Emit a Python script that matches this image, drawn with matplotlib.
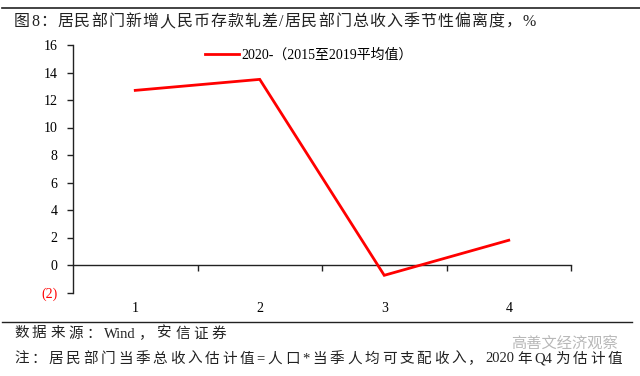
import matplotlib
matplotlib.use("Agg")
import matplotlib.pyplot as plt
from matplotlib.lines import Line2D

categories = ["1", "2", "3", "4"]
values = [12.7, 13.5, -0.75, 1.8]
series_name = "2020-（2015至2019平均值）"
yticks = [-2, 0, 2, 4, 6, 8, 10, 12, 14, 16]
ytick_labels = ["(2)", "0", "2", "4", "6", "8", "10", "12", "14", "16"]
title = "图8：居民部门新增人民币存款轧差/居民部门总收入季节性偏离度，%"
source = "数据来源：Wind，安信证券"
note = "注：居民部门当季总收入估计值=人口*当季人均可支配收入，2020 年 Q4 为估计值"
watermark = "高善文经济观察"

serif = ["Liberation Serif", "Noto Sans CJK SC", "DejaVu Sans"]
plt.rcParams["font.family"] = serif

W, H = 640, 376
fig = plt.figure(figsize=(W / 100, H / 100), dpi=100)

def fx(px):
    return px / W

def fy(py):
    return 1 - py / H

ax = fig.add_axes([fx(73), fy(292.5), fx(571) - fx(73), fy(45) - fy(292.5)])
x = list(range(len(categories)))
ax.plot(x, values, color="#ff0000", lw=2.0, solid_joinstyle="miter", label=series_name, zorder=3)
ax.set_xlim(-0.5, len(categories) - 0.5)
ax.set_ylim(-2, 16)

for s in ["top", "right"]:
    ax.spines[s].set_visible(False)
ax.spines["left"].set_color("#222222")
ax.spines["left"].set_linewidth(1.0)
ax.spines["bottom"].set_position(("data", 0))
ax.spines["bottom"].set_color("#222222")
ax.spines["bottom"].set_linewidth(1.0)

ax.set_yticks(yticks)
ax.set_yticklabels(ytick_labels, fontsize=10)
for lbl in ax.get_yticklabels():
    if lbl.get_text().startswith("("):
        lbl.set_color("#ff0000")
ax.tick_params(axis="y", direction="out", length=4, width=1, color="#222222", pad=7)

ax.set_xticks([i + 0.5 for i in x])
ax.set_xticklabels([])
ax.tick_params(axis="x", direction="out", length=4, width=1, color="#222222")
for i, c in zip(x, categories):
    ax.annotate(c, xy=(i, 0), xycoords=ax.get_xaxis_transform(), xytext=(0, -7),
                textcoords="offset points", ha="center", va="top", fontsize=10)

leg = fig.legend(handles=[Line2D([], [], color="#ff0000", lw=2.0)], labels=[series_name],
                 loc="center left", bbox_to_anchor=(fx(199), fy(55)), frameon=False,
                 handlelength=2.5, handletextpad=0.12, fontsize=10, borderaxespad=0)

# header/footer rules
fig.add_artist(Line2D([fx(2), fx(640)], [fy(8), fy(8)], color="#222222", lw=1.2))
fig.add_artist(Line2D([fx(2), fx(632)], [fy(322), fy(322)], color="#222222", lw=1.0))

renderer = fig.canvas.get_renderer()

def tokenize(s):
    toks = []
    cur = ""
    for ch in s:
        if ch == " ":
            if cur:
                toks.append(cur)
                cur = ""
        elif ord(ch) < 128:
            cur += ch
        else:
            if cur:
                toks.append(cur)
                cur = ""
            toks.append(ch)
    if cur:
        toks.append(cur)
    return toks

def spaced_text(s, x0, x1, y, size, color="#222222"):
    toks = tokenize(s)
    arts = []
    widths = []
    for t in toks:
        a = fig.text(0, fy(y), t, fontsize=size, ha="left", va="center", color=color)
        bb = a.get_window_extent(renderer)
        arts.append(a)
        widths.append(bb.width)
    gap = (x1 - x0 - sum(widths)) / max(len(toks) - 1, 1)
    cx = x0
    for a, w in zip(arts, widths):
        a.set_x(fx(cx))
        cx += w + gap

spaced_text(title, 14, 536, 22, 11.5)
spaced_text(source, 14, 226, 334, 10.5)
spaced_text(note, 14, 622, 359, 10.5)
fig.text(fx(511), fy(343), watermark, fontsize=11, ha="left", va="center", color="#b8b8b8",
         family=["Noto Sans CJK SC", "DejaVu Sans"])

fig.savefig("out.png", dpi=100)
